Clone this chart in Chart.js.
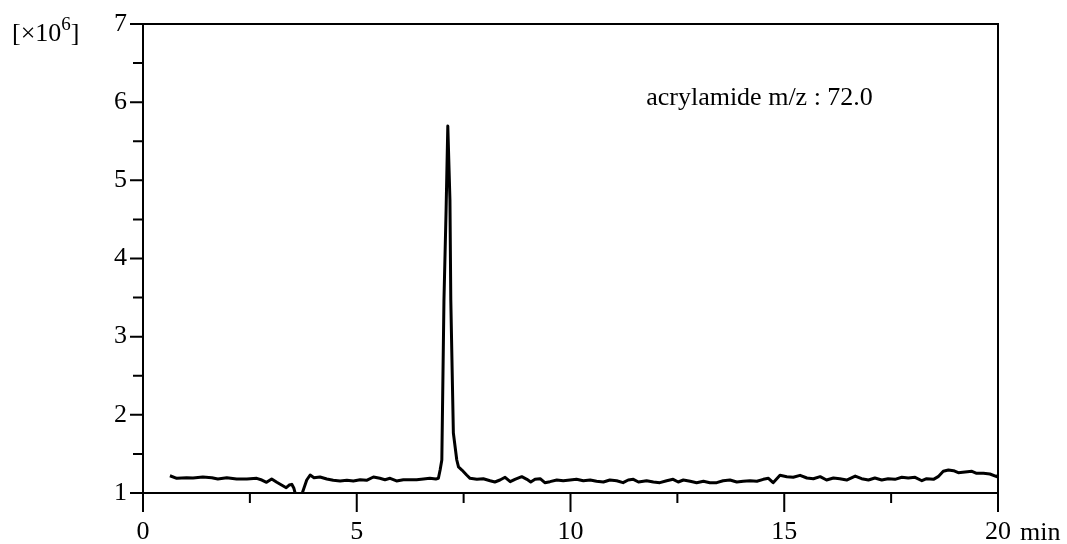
<!DOCTYPE html>
<html>
<head>
<meta charset="utf-8">
<script src="https://cdn.jsdelivr.net/npm/chart.js@4.4.1/dist/chart.umd.min.js"></script>
<style>
  body { margin: 0; background: #fff; }
  #chart { display: block; }
</style>
</head>
<body>
<canvas id="chart" width="1067" height="544"></canvas>
<script>
const FONT = '"Liberation Serif", "Times New Roman", serif';

// retention time (min)
const times = [
  0.63, 0.79, 1.02, 1.17, 1.40, 1.61, 1.75, 1.96, 2.19, 2.43, 2.66, 2.78, 2.89,
  3.01, 3.13, 3.24, 3.35, 3.42, 3.48, 3.53, 3.57, 3.63, 3.71, 3.83, 3.91, 4.00,
  4.14, 4.30, 4.45, 4.61, 4.77, 4.92, 5.08, 5.23, 5.39, 5.54, 5.66, 5.78, 5.93,
  6.09, 6.25, 6.40, 6.56, 6.71, 6.85, 6.91, 6.95, 6.99, 7.04, 7.09, 7.13, 7.18,
  7.20, 7.26, 7.34, 7.38, 7.46, 7.57, 7.65, 7.81, 7.96, 8.12, 8.23, 8.35, 8.47,
  8.59, 8.70, 8.86, 8.98, 9.07, 9.17, 9.29, 9.40, 9.52, 9.68, 9.83, 9.99, 10.14,
  10.30, 10.46, 10.61, 10.77, 10.92, 11.08, 11.23, 11.35, 11.47, 11.59, 11.78,
  11.94, 12.09, 12.25, 12.40, 12.52, 12.64, 12.80, 12.95, 13.11, 13.26, 13.42,
  13.57, 13.73, 13.89, 14.04, 14.20, 14.36, 14.51, 14.63, 14.74, 14.90, 15.06,
  15.21, 15.37, 15.53, 15.68, 15.84, 15.99, 16.15, 16.30, 16.46, 16.66, 16.81,
  16.97, 17.12, 17.28, 17.43, 17.59, 17.75, 17.90, 18.06, 18.22, 18.33, 18.49,
  18.60, 18.72, 18.84, 18.96, 19.07, 19.23, 19.39, 19.50, 19.66, 19.81, 19.97,
  20.00,
];

// intensity (x10^6)
const signal = [
  1.221, 1.188, 1.196, 1.192, 1.205, 1.196, 1.179, 1.196, 1.179, 1.179, 1.188, 1.166, 1.137,
  1.179, 1.137, 1.102, 1.068, 1.102, 1.111, 1.060, 0.974, 0.910, 0.974, 1.166, 1.230, 1.196,
  1.205, 1.179, 1.162, 1.154, 1.162, 1.154, 1.170, 1.162, 1.205, 1.188, 1.170, 1.188, 1.154,
  1.170, 1.170, 1.170, 1.179, 1.188, 1.179, 1.188, 1.294, 1.422, 3.469, 4.620, 5.695, 4.748,
  3.469, 1.768, 1.422, 1.333, 1.294, 1.230, 1.188, 1.175, 1.183, 1.157, 1.141, 1.166, 1.201,
  1.145, 1.175, 1.209, 1.175, 1.141, 1.175, 1.183, 1.132, 1.145, 1.166, 1.157, 1.166, 1.175,
  1.157, 1.166, 1.150, 1.141, 1.166, 1.157, 1.132, 1.166, 1.175, 1.141, 1.157,
  1.141, 1.132, 1.157, 1.175, 1.141, 1.166, 1.150, 1.132, 1.150, 1.132, 1.132,
  1.157, 1.166, 1.141, 1.150, 1.157, 1.150, 1.175, 1.188, 1.132, 1.226, 1.209,
  1.201, 1.226, 1.192, 1.183, 1.209, 1.166, 1.192, 1.183, 1.166, 1.217, 1.183,
  1.166, 1.192, 1.166, 1.183, 1.175, 1.201, 1.192, 1.201, 1.157, 1.183, 1.175,
  1.209, 1.278, 1.294, 1.285, 1.260, 1.269, 1.278, 1.252, 1.252, 1.243, 1.209,
  1.225,
];

const xTicks = [0, 5, 10, 15, 20];
const xMinor = [2.5, 7.5, 12.5, 17.5];
const yTicks = [1, 2, 3, 4, 5, 6, 7];
const yMinor = [1.5, 2.5, 3.5, 4.5, 5.5, 6.5];

const annotation = "acrylamide m/z : 72.0";
const xUnit = "min";

// box, ticks and texts
const frame = {
  id: "frame",
  afterDatasetsDraw(chart) {
    const c = chart.ctx;
    const a = chart.chartArea;
    const xs = chart.scales.x;
    const ys = chart.scales.y;
    c.save();
    c.strokeStyle = "#000";
    c.lineWidth = 2;
    c.lineCap = "butt";
    c.beginPath();
    c.rect(a.left, a.top, a.right - a.left, a.bottom - a.top);
    c.stroke();

    c.beginPath();
    xTicks.forEach((v) => {
      const px = xs.getPixelForValue(v);
      c.moveTo(px, a.bottom);
      c.lineTo(px, a.bottom + 19);
    });
    xMinor.forEach((v) => {
      const px = xs.getPixelForValue(v);
      c.moveTo(px, a.bottom);
      c.lineTo(px, a.bottom + 10);
    });
    yTicks.forEach((v) => {
      const py = ys.getPixelForValue(v);
      c.moveTo(a.left, py);
      c.lineTo(a.left - 13, py);
    });
    yMinor.forEach((v) => {
      const py = ys.getPixelForValue(v);
      c.moveTo(a.left, py);
      c.lineTo(a.left - 10, py);
    });
    c.stroke();

    c.fillStyle = "#000";
    c.textBaseline = "alphabetic";
    c.textAlign = "left";
    c.font = "26px " + FONT;
    c.fillText(annotation, xs.getPixelForValue(11.77), ys.getPixelForValue(5.97));
    c.fillText(xUnit, xs.getPixelForValue(20) + 22, a.bottom + 47);

    // axis multiplier [x10^6]
    let x = 12;
    const base = 41;
    const pre = "[\u00d710";
    c.fillText(pre, x, base);
    x += c.measureText(pre).width;
    c.font = "19px " + FONT;
    c.fillText("6", x, base - 11);
    x += c.measureText("6").width;
    c.font = "26px " + FONT;
    c.fillText("]", x, base);
    c.restore();
  },
};

const chart = new Chart(document.getElementById("chart"), {
  type: "line",
  data: {
    datasets: [
      {
        data: times.map((t, i) => ({ x: t, y: signal[i] })),
        borderColor: "#000",
        borderWidth: 3,
        borderJoinStyle: "round",
        pointRadius: 0,
        tension: 0,
        fill: false,
      },
    ],
  },
  options: {
    responsive: false,
    animation: false,
    devicePixelRatio: 1,
    layout: { padding: { top: 24, right: 69, left: 0, bottom: 0 } },
    plugins: { legend: { display: false }, tooltip: { enabled: false } },
    scales: {
      x: {
        type: "linear",
        min: 0,
        max: 20,
        afterFit: (s) => {
          s.height = 51;
          s.paddingLeft = 0;
          s.paddingRight = 0;
        },
        afterBuildTicks: (s) => { s.ticks = xTicks.map((v) => ({ value: v })); },
        grid: { display: false, drawTicks: false },
        border: { display: false },
        ticks: { color: "#000", font: { family: FONT, size: 26 }, padding: 24, maxRotation: 0 },
      },
      y: {
        type: "linear",
        min: 1,
        max: 7,
        afterFit: (s) => {
          s.width = 143;
          s.paddingTop = 0;
          s.paddingBottom = 0;
        },
        afterBuildTicks: (s) => { s.ticks = yTicks.map((v) => ({ value: v })); },
        grid: { display: false, drawTicks: false },
        border: { display: false },
        ticks: { color: "#000", font: { family: FONT, size: 26 }, padding: 16 },
      },
    },
  },
  plugins: [frame],
});
</script>
</body>
</html>
